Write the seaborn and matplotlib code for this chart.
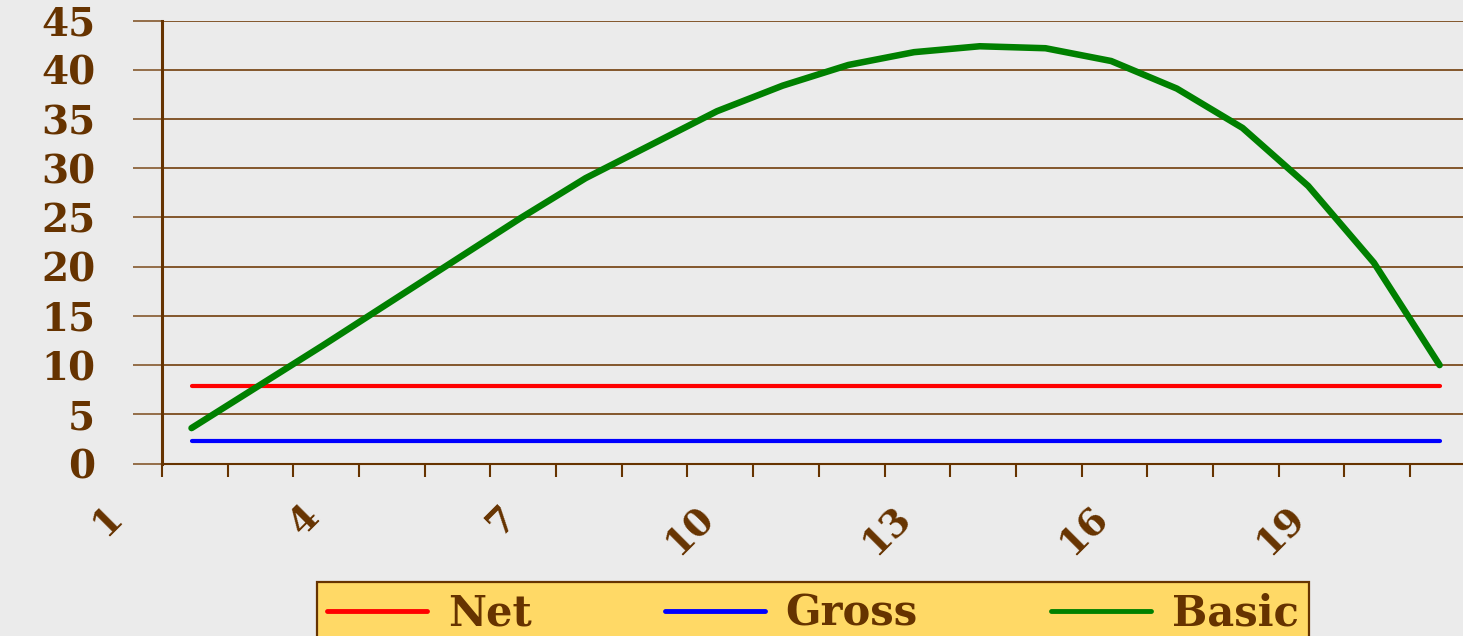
import numpy as np
import pandas as pd
import matplotlib
matplotlib.use('Agg')
import matplotlib.pyplot as plt
import matplotlib.transforms as mtransforms
import seaborn as sns

# Data
periods = list(range(1, 21))
net = [7.9] * 20
gross = [2.3] * 20
basic = [3.6, 7.8, 12.0, 16.3, 20.6, 24.9, 29.0, 32.4, 35.8, 38.4,
         40.5, 41.8, 42.4, 42.2, 40.9, 38.1, 34.1, 28.2, 20.4, 10.0]
shown_labels = ['1', '4', '7', '10', '13', '16', '19']

df = pd.DataFrame({'idx': np.arange(len(periods)), 'Net': net, 'Gross': gross, 'Basic': basic})

brown = '#663300'
grid_brown = '#7B4B1C'
bg = '#EBEBEB'

sns.set_theme(style='white')
plt.rcParams['font.family'] = ['DejaVu Serif']
plt.rcParams['font.weight'] = 'bold'

fig = plt.figure(figsize=(14.63, 6.36), dpi=100, facecolor=bg)
ax = fig.add_axes([0.1107, 0.2712, 0.898, 0.6963])
ax.set_facecolor(bg)

sns.lineplot(data=df, x='idx', y='Net', ax=ax, color='#FF0000', linewidth=3.0,
             solid_capstyle='round', label='Net')
sns.lineplot(data=df, x='idx', y='Gross', ax=ax, color='#0000FF', linewidth=3.0,
             solid_capstyle='round', label='Gross')
sns.lineplot(data=df, x='idx', y='Basic', ax=ax, color='#008000', linewidth=4.7,
             solid_capstyle='round', label='Basic')

ax.set_xlim(-0.45, 19.55)
ax.set_ylim(0, 45)
ax.set_xlabel('')
ax.set_ylabel('')

# y axis
ax.set_yticks(np.arange(0, 46, 5))
ax.yaxis.grid(True, color=grid_brown, linewidth=1.3)
ax.set_axisbelow(True)
ax.tick_params(axis='y', length=21, width=1.1, color=grid_brown, pad=27,
               labelsize=28, labelcolor=brown, left=True)
for lab in ax.get_yticklabels():
    lab.set_fontweight('bold')

# x axis: tick marks between categories, labels every third period
ax.set_xticks(np.arange(0, 20, 3), shown_labels)
ax.set_xticks(np.arange(-0.45, 19.6, 1), minor=True)
ax.tick_params(axis='x', which='major', length=0, pad=25, labelsize=27,
               labelcolor=brown, bottom=True)
ax.tick_params(axis='x', which='minor', length=9.4, width=1.5, color=brown,
               direction='out', bottom=True)
shift = mtransforms.ScaledTranslation(-0.62, 0, fig.dpi_scale_trans)
for lab in ax.get_xticklabels():
    lab.set_rotation(45)
    lab.set_ha('right')
    lab.set_fontweight('bold')
    lab.set_transform(lab.get_transform() + shift)

for s in ['top', 'right']:
    ax.spines[s].set_visible(False)
ax.spines['left'].set_color(brown)
ax.spines['left'].set_linewidth(2.2)
ax.spines['bottom'].set_color(brown)
ax.spines['bottom'].set_linewidth(1.5)

leg = ax.legend(loc='upper center', bbox_to_anchor=(0.5557, 0.085),
                bbox_transform=fig.transFigure, ncol=3, frameon=True,
                fancybox=False, facecolor='#FFD966', edgecolor=brown,
                framealpha=1, prop={'family': 'DejaVu Serif', 'weight': 'bold', 'size': 30},
                handlelength=2.4, handletextpad=0.5, columnspacing=3.2,
                borderpad=0.25, borderaxespad=0)
leg.get_frame().set_linewidth(1.6)
for t in leg.get_texts():
    t.set_color(brown)
for h in leg.get_lines():
    h.set_linewidth(3.5)

fig.savefig('out.png', dpi=100, facecolor=bg)
